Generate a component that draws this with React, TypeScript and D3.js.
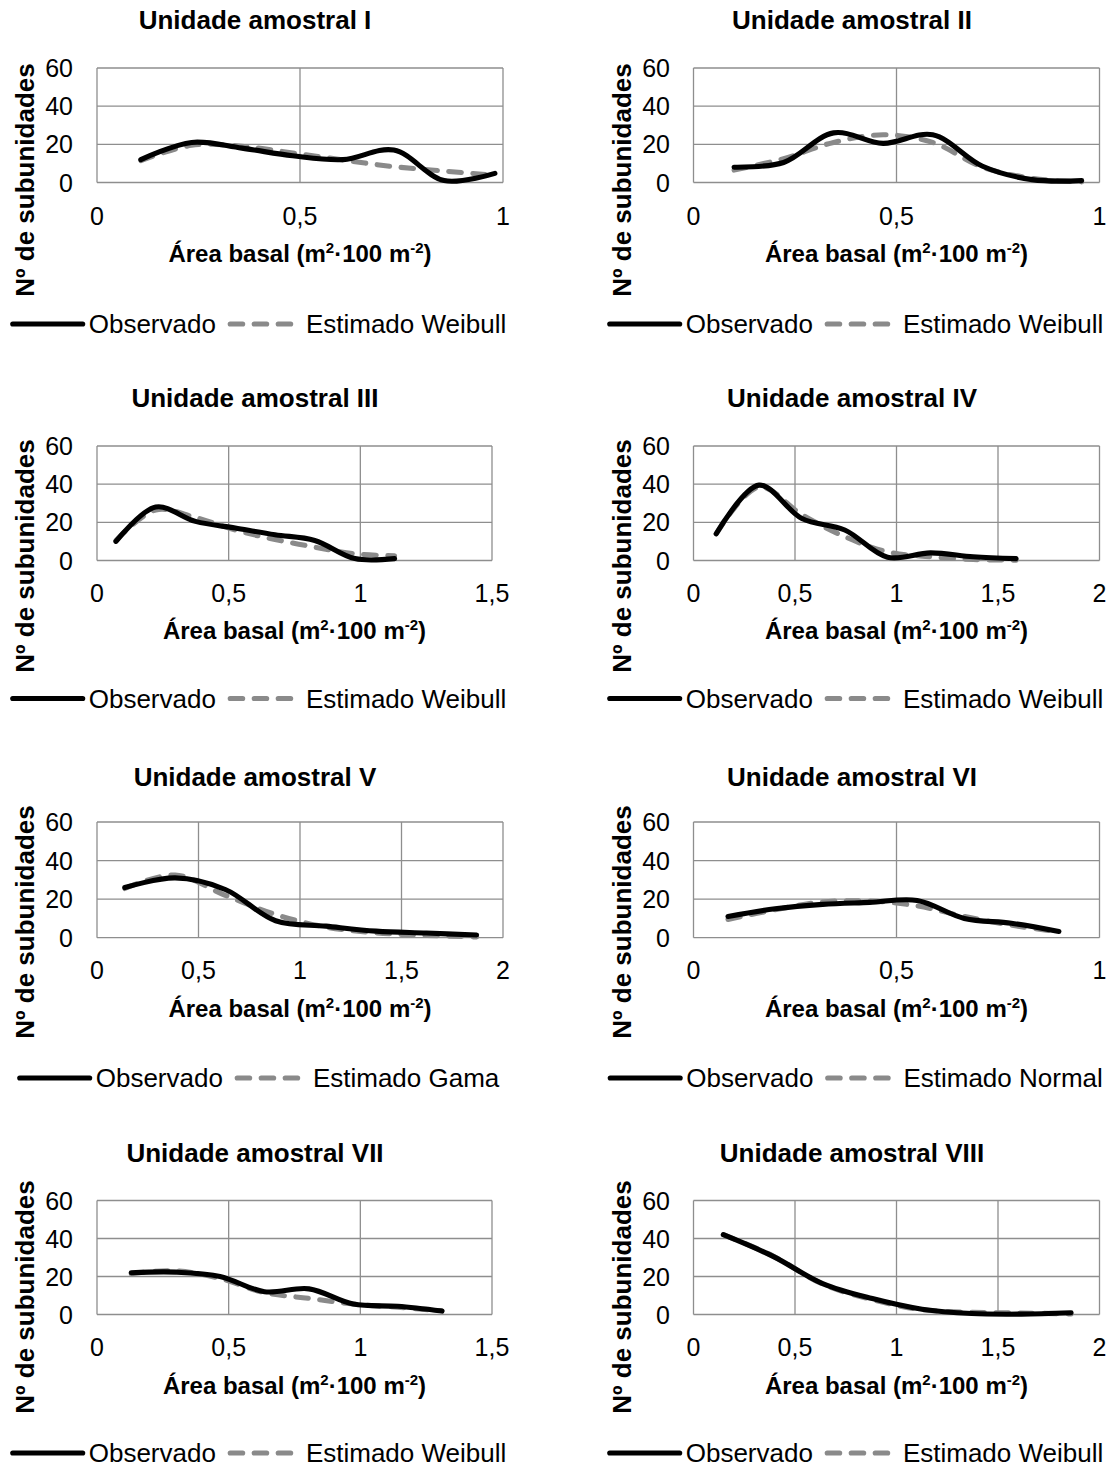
import React from 'react';
import * as d3 from 'd3';

const FONT = "'Liberation Sans', Arial, Helvetica, sans-serif";

// ---------- data ----------
const panelTitles = [
  'Unidade amostral I', 'Unidade amostral II', 'Unidade amostral III', 'Unidade amostral IV',
  'Unidade amostral V', 'Unidade amostral VI', 'Unidade amostral VII', 'Unidade amostral VIII',
];
const observedName = 'Observado';
const estimatorNames = [
  'Estimado Weibull', 'Estimado Weibull', 'Estimado Weibull', 'Estimado Weibull',
  'Estimado Gama', 'Estimado Normal', 'Estimado Weibull', 'Estimado Weibull',
];
const yTicks = [0, 20, 40, 60];
const xTicksTo1 = [0, 0.5, 1];
const xTicksTo15 = [0, 0.5, 1, 1.5];
const xTicksTo2 = [0, 0.5, 1, 1.5, 2];
const yAxisTitle = 'Nº de subunidades';

const classMidsI = [0.108, 0.233, 0.357, 0.482, 0.606, 0.731, 0.855, 0.98];
const observedI = [12, 21, 18, 14, 12, 17, 1, 4.8];
const weibullI = [11.5, 19.5, 19, 15.5, 11.8, 8.3, 6, 3.8];

const classMidsII = [0.1, 0.222, 0.345, 0.467, 0.589, 0.712, 0.834, 0.956];
const observedII = [8, 10.5, 26, 20.5, 25, 8.5, 1.5, 1];
const weibullII = [6.5, 12.5, 21, 25, 21, 8, 2.2, 0.3];

const classMidsIII = [0.072, 0.223, 0.374, 0.525, 0.676, 0.827, 0.979, 1.13];
const observedIII = [10, 28, 20.5, 17, 13.5, 10.5, 1, 1];
const weibullIII = [10.5, 26.5, 22.5, 16, 11, 7, 3.5, 2.5];

const classMidsIV = [0.112, 0.323, 0.534, 0.745, 0.956, 1.167, 1.378, 1.589];
const observedIV = [14, 39.5, 22, 16, 1.7, 4, 2, 1];
const weibullIV = [14, 38.5, 24, 12.5, 4.5, 2, 0.5, 0.2];

const classMidsV = [0.137, 0.385, 0.632, 0.88, 1.128, 1.375, 1.623, 1.87];
const observedV = [26, 31, 25, 8.8, 6, 3.4, 2.4, 1.4];
const gamaV = [25.5, 32.5, 22, 12, 5.5, 2.5, 1.2, 0.4];

const classMidsVI = [0.085, 0.201, 0.318, 0.434, 0.551, 0.667, 0.783, 0.9];
const observedVI = [11, 15, 17.3, 18.3, 19.3, 10, 7.5, 3.2];
const normalVI = [9.5, 14.5, 18.5, 19, 16.5, 11, 6.5, 3];

const classMidsVII = [0.13, 0.299, 0.467, 0.636, 0.805, 0.973, 1.142, 1.31];
const observedVII = [22, 22.3, 20, 12, 13.5, 5.5, 4.3, 1.8];
const weibullVII = [21.5, 23, 19, 11.5, 8.5, 5.5, 3.8, 2];

const classMidsVIII = [0.147, 0.392, 0.636, 0.881, 1.126, 1.37, 1.615, 1.86];
const observedVIII = [42, 30.6, 16.3, 8.4, 2.8, 0.5, 0.2, 0.9];
const weibullVIII = [42, 30.8, 16, 7.8, 2.5, 1.2, 0.8, 0.3];

const panelMids = [classMidsI, classMidsII, classMidsIII, classMidsIV, classMidsV, classMidsVI, classMidsVII, classMidsVIII];
const panelObserved = [observedI, observedII, observedIII, observedIV, observedV, observedVI, observedVII, observedVIII];
const panelFitted = [weibullI, weibullII, weibullIII, weibullIV, gamaV, normalVI, weibullVII, weibullVIII];
const panelXTicks = [xTicksTo1, xTicksTo1, xTicksTo15, xTicksTo2, xTicksTo2, xTicksTo1, xTicksTo15, xTicksTo2];

// ---------- layout ----------
const rows = [
  { title: 29.3, top: 68, bottom: 182.5, tick: 216, xtitle: 253, legend: 324, ytitle: 180 },
  { title: 407.3, top: 446, bottom: 560.5, tick: 593, xtitle: 630, legend: 698.5, ytitle: 556 },
  { title: 786, top: 822, bottom: 937.7, tick: 970, xtitle: 1008, legend: 1078, ytitle: 922 },
  { title: 1162, top: 1200.5, bottom: 1314.5, tick: 1346.7, xtitle: 1385, legend: 1453, ytitle: 1297 },
];
const cols = [
  { plotLeft: 97, off: 0 },
  { plotLeft: 693.5, off: 597 },
];
const plotWidths = [406, 406, 395, 406, 406, 406, 395, 406];

const GRID = '#8e8e8e';
const DASH_COLOR = '#8a8a8a';
const LINE_W = 5.1;
const DASH = '12.5 11.5';

let ctx: CanvasRenderingContext2D | null = null;
function measure(text: string, size: number, bold = false): number {
  if (!ctx) {
    const c = document.createElement('canvas');
    ctx = c.getContext('2d');
  }
  if (!ctx) return text.length * size * 0.55;
  ctx.font = `${bold ? 'bold ' : ''}${size}px ${FONT}`;
  return ctx.measureText(text).width;
}

function Panel({ i }: { i: number }) {
  const row = rows[Math.floor(i / 2)];
  const col = cols[i % 2];
  const xt = panelXTicks[i];
  const xMax = xt[xt.length - 1];
  const left = col.plotLeft;
  const right = left + plotWidths[i];
  const x = d3.scaleLinear().domain([0, xMax]).range([left, right]);
  const y = d3.scaleLinear().domain([0, 60]).range([row.bottom, row.top]);
  const mids = panelMids[i];
  const line = d3
    .line<number>()
    .x((_, k) => x(mids[k]))
    .y((d) => y(d))
    .curve(d3.curveCatmullRom.alpha(0.5));
  const fmt = (v: number) => String(v).replace('.', ',');

  // legend
  const legendSize = 26;
  const w1 = measure(observedName, legendSize);
  const w2 = measure(estimatorNames[i], legendSize);
  const total = 70 + 6 + w1 + 12 + 66 + 12 + w2;
  const lx = 259.5 + col.off - total / 2;
  const ly = row.legend;
  const t1x = lx + 76;
  const dx0 = t1x + w1 + 12;
  const t2x = dx0 + 66 + 12;

  const off = col.off;
  return (
    <g>
      <text x={255 + off} y={row.title} textAnchor="middle" fontWeight="bold" fontSize={26}>
        {panelTitles[i]}
      </text>
      {/* grid */}
      {yTicks.map((t) => (
        <line key={'gy' + t} x1={left} x2={right} y1={y(t)} y2={y(t)} stroke={GRID} strokeWidth={1.3} />
      ))}
      {xt.map((t) => (
        <line key={'gx' + t} x1={x(t)} x2={x(t)} y1={row.top} y2={row.bottom} stroke={GRID} strokeWidth={1.3} />
      ))}
      {/* y tick labels */}
      {yTicks.map((t) => (
        <text key={'ty' + t} x={73 + off} y={y(t) + 9} textAnchor="end" fontSize={25}>
          {t}
        </text>
      ))}
      {xt.map((t) => (
        <text key={'tx' + t} x={x(t)} y={row.tick + 9} textAnchor="middle" fontSize={25}>
          {fmt(t)}
        </text>
      ))}
      {/* axis titles */}
      <text x={(left + right) / 2} y={row.xtitle + 8.6} textAnchor="middle" fontWeight="bold" fontSize={24}>
        Área basal (m<tspan dy={-9} fontSize={15}>2</tspan>
        <tspan dy={9}>·100 m</tspan>
        <tspan dy={-9} fontSize={15}>-2</tspan>
        <tspan dy={9}>)</tspan>
      </text>
      <text
        transform={`translate(${33.5 + off},${row.ytitle}) rotate(-90)`}
        textAnchor="middle"
        fontWeight="bold"
        fontSize={26}
      >
        {yAxisTitle}
      </text>
      {/* series */}
      <path
        d={line(panelFitted[i]) || ''}
        fill="none"
        stroke={DASH_COLOR}
        strokeWidth={LINE_W}
        strokeDasharray={DASH}
        strokeLinecap="round"
      />
      <path d={line(panelObserved[i]) || ''} fill="none" stroke="#000" strokeWidth={LINE_W} strokeLinecap="round" strokeLinejoin="round" />
      {/* legend */}
      <line x1={lx} x2={lx + 70} y1={ly} y2={ly} stroke="#000" strokeWidth={LINE_W} strokeLinecap="round" />
      <text x={t1x} y={ly + 9.3} fontSize={legendSize}>
        {observedName}
      </text>
      <line
        x1={dx0 + 2.3}
        x2={dx0 + 66}
        y1={ly}
        y2={ly}
        stroke={DASH_COLOR}
        strokeWidth={LINE_W}
        strokeDasharray={DASH}
        strokeLinecap="round"
      />
      <text x={t2x} y={ly + 9.3} fontSize={legendSize}>
        {estimatorNames[i]}
      </text>
    </g>
  );
}

export default function App() {
  return (
    <svg
      width={1115}
      height={1467}
      viewBox="0 0 1115 1467"
      style={{ position: 'absolute', left: 0, top: 0, background: '#fff' }}
      fontFamily={FONT}
    >
      <rect x={0} y={0} width={1115} height={1467} fill="#fff" />
      {panelTitles.map((_, i) => (
        <Panel key={i} i={i} />
      ))}
    </svg>
  );
}
